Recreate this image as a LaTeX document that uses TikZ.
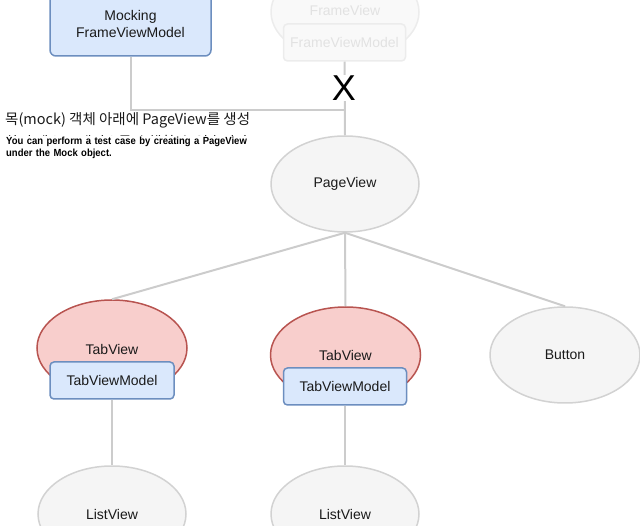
\documentclass[tikz,border=0pt]{standalone}
\usepackage{fontspec}
\setmainfont{Liberation Sans}
\newfontfamily\krfont{Noto Sans CJK KR}
\newfontfamily\capfont[FakeStretch=0.92]{Liberation Sans}
\usetikzlibrary{shapes.geometric}
\definecolor{modelfill}{HTML}{DAE8FC}
\definecolor{modeldraw}{HTML}{6C8EBF}
\definecolor{tabfill}{HTML}{F8CECC}
\definecolor{tabdraw}{HTML}{B85450}
\definecolor{viewfill}{HTML}{F5F5F5}
\definecolor{viewdraw}{HTML}{D2D2D2}
\definecolor{linkgray}{HTML}{CCCCCC}
\definecolor{fadefill}{HTML}{F9F9F9}
\definecolor{fadedraw}{HTML}{ECECEC}
\definecolor{fadetext}{HTML}{E2E2E2}
\definecolor{inktext}{HTML}{1A1A1A}
\tikzset{
  view/.style={ellipse, draw=viewdraw, fill=viewfill, line width=1.5pt,
    minimum width=148pt, minimum height=96pt, text=inktext,
    font=\fontsize{14}{16}\selectfont},
  tabview/.style={view, draw=tabdraw, fill=tabfill},
  model/.style={rectangle, rounded corners=4pt, draw=modeldraw, fill=modelfill,
    line width=1.5pt, minimum width=122pt, minimum height=37pt, text=inktext,
    font=\fontsize{14}{16}\selectfont},
  faded/.style={draw=fadedraw, fill=fadefill, text=fadetext},
  link/.style={draw=linkgray, line width=2pt}
}
\begin{document}
\begin{tikzpicture}[x=1pt,y=-1pt]
    \useasboundingbox (0,0) rectangle (640,526);
    % the mocked model and the faded frame view
    \node[model, minimum width=161pt, minimum height=64pt, rounded corners=6pt,
          align=center, font=\fontsize{14}{17}\selectfont] (mock) at (130.5,24) {Mocking\\FrameViewModel};
    \node[view, faded] (fv) at (345,12) {};
    \node[text=fadetext, font=\fontsize{14}{16}\selectfont] (fvlabel) at (345,11) {FrameView};
    \node[model, faded] (fvm) at (344.5,42.5) {FrameViewModel};
    % the page view and its children
    \node[view] (pv) at (345,184) {PageView};
    \node[tabview, minimum width=150pt] (tab1) at (112,348) {};
    \node[tabview, minimum width=150pt] (tab2) at (345.5,355) {};
    \node[view, minimum width=150pt] (btn) at (565,355) {Button};
    \node[view] (lv1) at (112,514) {ListView};
    \node[view] (lv2) at (345,514) {ListView};
    % the links
    \coordinate (join) at (345,110);
    \draw[link] (mock.south) |- (join);
    \draw[link] (fvm.south) -- (pv.north);
    \draw[link] (pv.south) -- (tab1.north);
    \draw[link] (pv.south) -- (tab2.north);
    \draw[link] (pv.south) -- (btn.north);
    % the tab labels and their models
    \node[text=inktext, font=\fontsize{14}{16}\selectfont] (tab1label) at (112,349) {TabView};
    \node[text=inktext, font=\fontsize{14}{16}\selectfont] (tab2label) at (345.5,355) {TabView};
    \node[model, minimum width=124pt] (tvm1) at (112,380.5) {TabViewModel};
    \node[model, minimum width=123pt] (tvm2) at (345,386.5) {TabViewModel};
    \draw[link] (tvm1.south) -- (lv1.north);
    \draw[link] (tvm2.south) -- (lv2.north);
    % the cut mark
    \node[fill=white, inner sep=1pt, text=black, font=\fontsize{36}{36}\selectfont] (cut) at (344,88) {X};
    % the captions
    \node[anchor=west, inner sep=0pt, text=inktext, font=\krfont\fontsize{14.5}{16}\selectfont] (krline1) at (5,120) {목(mock) 객체 아래에 PageView를 생성};
    \node[anchor=west, inner sep=0pt, text=inktext, font=\krfont\fontsize{14.5}{16}\selectfont] (krline2) at (5,142.5) {하여 테스트 케이스를 수행할 수 있습니다};
    \node[anchor=north west, fill=white, inner sep=1pt, text width=250pt, align=left,
          text=black, font=\capfont\bfseries\fontsize{10.3}{12}\selectfont] (enline) at (5,136)
          {You can perform a test case by creating a PageView\\under the Mock object.};
\end{tikzpicture}
\end{document}
